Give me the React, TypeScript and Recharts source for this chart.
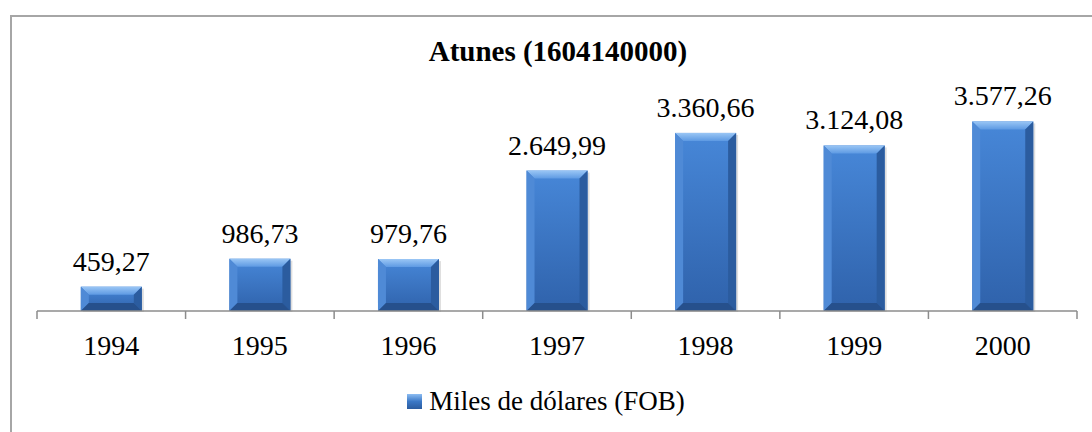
import { BarChart, Bar, XAxis, YAxis, LabelList, Legend } from "recharts";

const years = ["1994", "1995", "1996", "1997", "1998", "1999", "2000"];
const values = [459.27, 986.73, 979.76, 2649.99, 3360.66, 3124.08, 3577.26];
const seriesName = "Miles de dólares (FOB)";
const chartTitle = "Atunes (1604140000)";
const yDomain = [0, 4000];

const data = years.map((year, i) => ({ year, value: values[i] }));

const FONT = '"Liberation Serif", "Times New Roman", serif';
const AXIS_COLOR = "#8c8c8c";

// 3.360,66 style
function formatEs(v: number) {
  const [int, dec] = v.toFixed(2).split(".");
  return int.replace(/\B(?=(\d{3})+(?!\d))/g, ".") + "," + dec;
}

function BevelBar(props: any) {
  const { x, y, width, height } = props;
  if (!height || height <= 0) return null;
  const b = Math.min(8, height / 3, width / 3);
  const r = x + width;
  const btm = y + height;
  return (
    <g>
      <rect x={x + 2} y={y + 2} width={width} height={height - 1} fill="#000" opacity={0.13} />
      <rect x={x} y={y} width={width} height={height} fill="url(#faceGrad)" />
      <polygon
        points={`${x},${y} ${r},${y} ${r - b},${y + b} ${x + b},${y + b}`}
        fill="url(#topGrad)"
      />
      <polygon
        points={`${x},${y} ${x + b},${y + b} ${x + b},${btm - b} ${x},${btm}`}
        fill="#4f8ad6"
      />
      <polygon
        points={`${r},${y} ${r - b},${y + b} ${r - b},${btm - b} ${r},${btm}`}
        fill="#2b5c9f"
      />
      <polygon
        points={`${x},${btm} ${x + b},${btm - b} ${r - b},${btm - b} ${r},${btm}`}
        fill="#26508c"
      />
    </g>
  );
}

// year label plus the tick marks that sit between categories
function YearTick(props: any) {
  const { x, y, payload, index, width, visibleTicksCount } = props;
  const band = width / visibleTicksCount;
  const left = x - band / 2;
  const right = x + band / 2;
  const last = index === visibleTicksCount - 1;
  return (
    <g>
      <line x1={left} x2={left} y1={y} y2={y + 8} stroke={AXIS_COLOR} strokeWidth={1.5} />
      {last && (
        <line x1={right} x2={right} y1={y} y2={y + 8} stroke={AXIS_COLOR} strokeWidth={1.5} />
      )}
      <text x={x} y={y + 44} textAnchor="middle" fontFamily={FONT} fontSize={28} fill="#000">
        {payload.value}
      </text>
    </g>
  );
}

function LegendContent() {
  return (
    <div
      style={{
        display: "flex",
        justifyContent: "center",
        alignItems: "center",
        height: 30,
        fontFamily: FONT,
        fontSize: 27,
        color: "#000",
      }}
    >
      <span
        style={{
          display: "inline-block",
          width: 15,
          height: 15,
          marginRight: 7,
          background: "linear-gradient(#8dbdf2, #3b78c6 50%, #2b5c9f)",
        }}
      />
      <span>{seriesName}</span>
    </div>
  );
}

export default function App() {
  return (
    <div
      style={{
        position: "fixed",
        left: 0,
        top: 0,
        width: 1092,
        height: 432,
        overflow: "hidden",
        background: "#fff",
      }}
    >
      <div
        style={{
          position: "absolute",
          left: 10,
          top: 15,
          width: 1300,
          height: 700,
          border: "2px solid #a6a6a6",
        }}
      />
      <div
        style={{
          position: "absolute",
          left: 0,
          top: 36,
          width: 1116,
          textAlign: "center",
          fontFamily: FONT,
          fontWeight: "bold",
          fontSize: 29,
          lineHeight: "30px",
          color: "#000",
        }}
      >
        {chartTitle}
      </div>
      <div style={{ position: "absolute", left: 0, top: 0 }}>
        <BarChart
          width={1092}
          height={432}
          data={data}
          margin={{ top: 99, right: 15, left: 37, bottom: 16 }}
          barCategoryGap="29.5%"
        >
          <defs>
            <linearGradient id="faceGrad" x1="0" y1="0" x2="0" y2="1">
              <stop offset="0%" stopColor="#4787d8" />
              <stop offset="100%" stopColor="#2f62ab" />
            </linearGradient>
            <linearGradient id="topGrad" x1="0" y1="0" x2="0" y2="1">
              <stop offset="0%" stopColor="#9ac6f5" />
              <stop offset="100%" stopColor="#5e9ae3" />
            </linearGradient>
          </defs>
          <XAxis
            dataKey="year"
            interval={0}
            axisLine={{ stroke: AXIS_COLOR, strokeWidth: 1.5 }}
            tickLine={false}
            tickSize={0}
            tickMargin={0}
            height={75}
            tick={<YearTick />}
          />
          <YAxis hide domain={yDomain} />
          <Legend
            verticalAlign="bottom"
            height={30}
            wrapperStyle={{ left: 0, width: 1092 }}
            content={<LegendContent />}
          />
          <Bar
            dataKey="value"
            name={seriesName}
            shape={<BevelBar />}
            isAnimationActive={false}
          >
            <LabelList
              dataKey="value"
              position="top"
              offset={16}
              formatter={(v: any) => formatEs(Number(v))}
              style={{ fontFamily: FONT, fontSize: 28, fill: "#000" }}
            />
          </Bar>
        </BarChart>
      </div>
    </div>
  );
}
